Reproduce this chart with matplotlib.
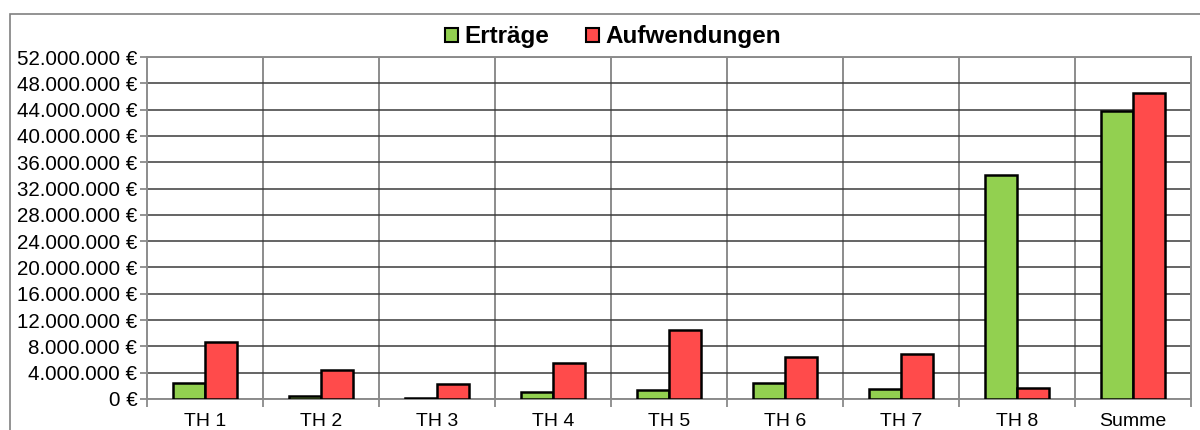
import numpy as np
import matplotlib.pyplot as plt
from matplotlib.patches import Rectangle, Patch
from matplotlib.ticker import FuncFormatter, FixedLocator

plt.rcParams['font.family'] = ['Liberation Sans', 'DejaVu Sans']

categories = ['TH 1', 'TH 2', 'TH 3', 'TH 4', 'TH 5', 'TH 6', 'TH 7', 'TH 8', 'Summe']
ertraege = [2.44e6, 0.46e6, 0.08e6, 1.02e6, 1.37e6, 2.44e6, 1.48e6, 34.1e6, 43.75e6]
aufwendungen = [8.64e6, 4.37e6, 2.24e6, 5.44e6, 10.5e6, 6.45e6, 6.9e6, 1.68e6, 46.6e6]
y_ticks = np.arange(0, 52e6 + 1, 4e6)


def euro_fmt(v, pos):
    if v == 0:
        return '0 €'
    return f'{int(v):,} €'.replace(',', '.')


fig = plt.figure(figsize=(12, 4.3), dpi=100)
# outer chart frame (cut off at right/bottom like in the source)
fig.patches.append(Rectangle((10 / 1200, -0.05), 1.2, 1 - 14 / 430 + 0.05,
                             transform=fig.transFigure, fill=False,
                             edgecolor='#808080', linewidth=1.2))

ax = fig.add_axes([147 / 1200, 1 - 399 / 430, (1191 - 147) / 1200, (399 - 57) / 430])

x = np.arange(len(categories))
w = 0.28
ax.bar(x - w / 2, ertraege, w, color='#92d050', edgecolor='black', linewidth=1.8,
       label='Erträge', zorder=3)
ax.bar(x + w / 2, aufwendungen, w, color='#ff4b4b', edgecolor='black', linewidth=1.8,
       label='Aufwendungen', zorder=3)

ax.set_xlim(-0.5, len(categories) - 0.5)
ax.set_ylim(0, 52e6)
ax.set_yticks(y_ticks)
ax.yaxis.set_major_formatter(FuncFormatter(euro_fmt))

# category labels centered, tick marks on the boundaries
ax.set_xticks(x)
ax.set_xticklabels(categories)
ax.tick_params(axis='x', length=0, labelsize=14, pad=10)
ax.xaxis.set_minor_locator(FixedLocator(np.arange(-0.5, len(categories), 1.0)))
ax.tick_params(axis='x', which='minor', length=6, width=1.2, color='#808080')
ax.tick_params(axis='y', length=5, width=1.2, color='#808080', labelsize=14.8, pad=2)

ax.grid(axis='y', color='#3a3a3a', linewidth=1.1, zorder=0)
for b in np.arange(0.5, len(categories) - 1, 1.0):
    ax.axvline(b, color='#8c8c8c', linewidth=1.4, zorder=1)

for s in ax.spines.values():
    s.set_color('#8c8c8c')
    s.set_linewidth(1.4)

handles = [Patch(facecolor='#92d050', edgecolor='black', linewidth=1.5, label='Erträge'),
           Patch(facecolor='#ff4b4b', edgecolor='black', linewidth=1.5, label='Aufwendungen')]
fig.legend(handles=handles, loc='center', bbox_to_anchor=(613 / 1200, 1 - 37 / 430),
           ncol=2, frameon=False, prop={'weight': 'bold', 'size': 17.5},
           handlelength=0.55, handleheight=0.55, handletextpad=0.25, columnspacing=1.5)

fig.savefig('out.png', dpi=100)
